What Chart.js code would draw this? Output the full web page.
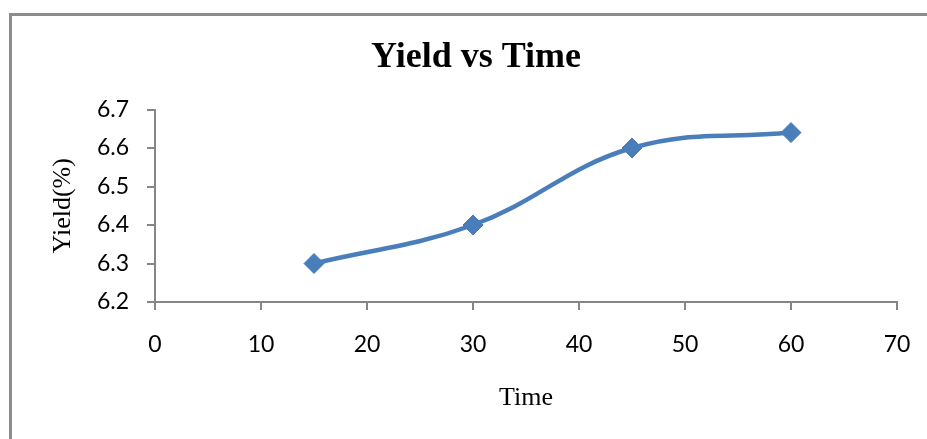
<!DOCTYPE html>
<html><head><meta charset="utf-8">
<script src="https://cdn.jsdelivr.net/npm/chart.js@4/dist/chart.umd.min.js"></script>
<style>html,body{margin:0;padding:0;background:#fff;overflow:hidden}#wrap{width:927px;height:439px;position:relative}</style>
</head><body><div id="wrap"><canvas id="c" width="927" height="439"></canvas></div>
<script>
const timeValues = [15, 30, 45, 60];
const yieldValues = [6.3, 6.4, 6.6, 6.64];
const chartTitle = 'Yield vs Time';
const xAxisTitle = 'Time';
const yAxisTitle = 'Yield(%)';
const xTicks = [0, 10, 20, 30, 40, 50, 60, 70];
const yTicks = [6.2, 6.3, 6.4, 6.5, 6.6, 6.7];

const axisGray = '#868686';
const framePlugin = {
  id: 'frame',
  beforeDraw(chart) {
    const ctx = chart.ctx;
    ctx.save();
    ctx.fillStyle = '#ffffff';
    ctx.fillRect(0, 0, chart.width, chart.height);
    ctx.strokeStyle = '#8c8c8c';
    ctx.lineWidth = 3;
    ctx.beginPath();
    ctx.moveTo(10.5, chart.height + 2);
    ctx.lineTo(10.5, 14.5);
    ctx.lineTo(chart.width + 2, 14.5);
    ctx.stroke();
    ctx.restore();
  }
};

new Chart(document.getElementById('c'), {
  type: 'line',
  data: {
    datasets: [{
      data: timeValues.map((t, i) => ({ x: t, y: yieldValues[i] })),
      borderColor: '#4a7ebb',
      backgroundColor: '#4a7ebb',
      borderWidth: 4.5,
      pointStyle: 'rectRot',
      pointRadius: 10,
      pointBorderWidth: 1,
      pointBorderColor: '#4a7ebb',
      pointBackgroundColor: '#4a7ebb',
      tension: 0.4,
      clip: false
    }]
  },
  options: {
    responsive: false,
    animation: false,
    devicePixelRatio: 1,
    layout: { autoPadding: false, padding: { left: 55, right: 30, top: 0, bottom: 0 } },
    plugins: {
      legend: { display: false },
      tooltip: { enabled: false },
      title: {
        display: true,
        text: chartTitle,
        color: '#000',
        font: { family: 'Liberation Serif', size: 36, weight: 'bold', lineHeight: 1.2 },
        padding: { top: 36, bottom: 30.3 }
      }
    },
    scales: {
      x: {
        type: 'linear',
        position: 'bottom',
        min: 0, max: 70,
        afterBuildTicks: s => { s.ticks = xTicks.map(v => ({ value: v })); },
        afterFit: s => { s.height = 137; s.paddingLeft = 0; s.paddingRight = 0; },
        ticks: {
          color: '#000',
          font: { family: 'Lato', size: 23, lineHeight: 1.2 },
          padding: 21,
          maxRotation: 0,
          callback: v => String(v)
        },
        grid: { drawOnChartArea: false, drawTicks: true, tickLength: 8, color: axisGray, lineWidth: 2 },
        border: { display: true, color: axisGray, width: 2 },
        title: {
          display: true,
          text: xAxisTitle,
          color: '#000',
          font: { family: 'Liberation Serif', size: 26, lineHeight: 1.2 },
          padding: { top: 0, bottom: 25.4 }
        }
      },
      y: {
        type: 'linear',
        position: 'left',
        min: 6.2, max: 6.7,
        afterBuildTicks: s => { s.ticks = yTicks.map(v => ({ value: v })); },
        afterFit: s => { s.width = 100; },
        ticks: {
          color: '#000',
          font: { family: 'Lato', size: 23, lineHeight: 1.2 },
          padding: 18,
          callback: v => Number(v).toFixed(1)
        },
        grid: { drawOnChartArea: false, drawTicks: true, tickLength: 8, color: axisGray, lineWidth: 2 },
        border: { display: true, color: axisGray, width: 2 },
        title: {
          display: true,
          text: yAxisTitle,
          color: '#000',
          font: { family: 'Liberation Serif', size: 26, lineHeight: 1.2 },
          padding: { top: -7.6, bottom: 0 }
        }
      }
    }
  },
  plugins: [framePlugin]
});
</script>
</body></html>
